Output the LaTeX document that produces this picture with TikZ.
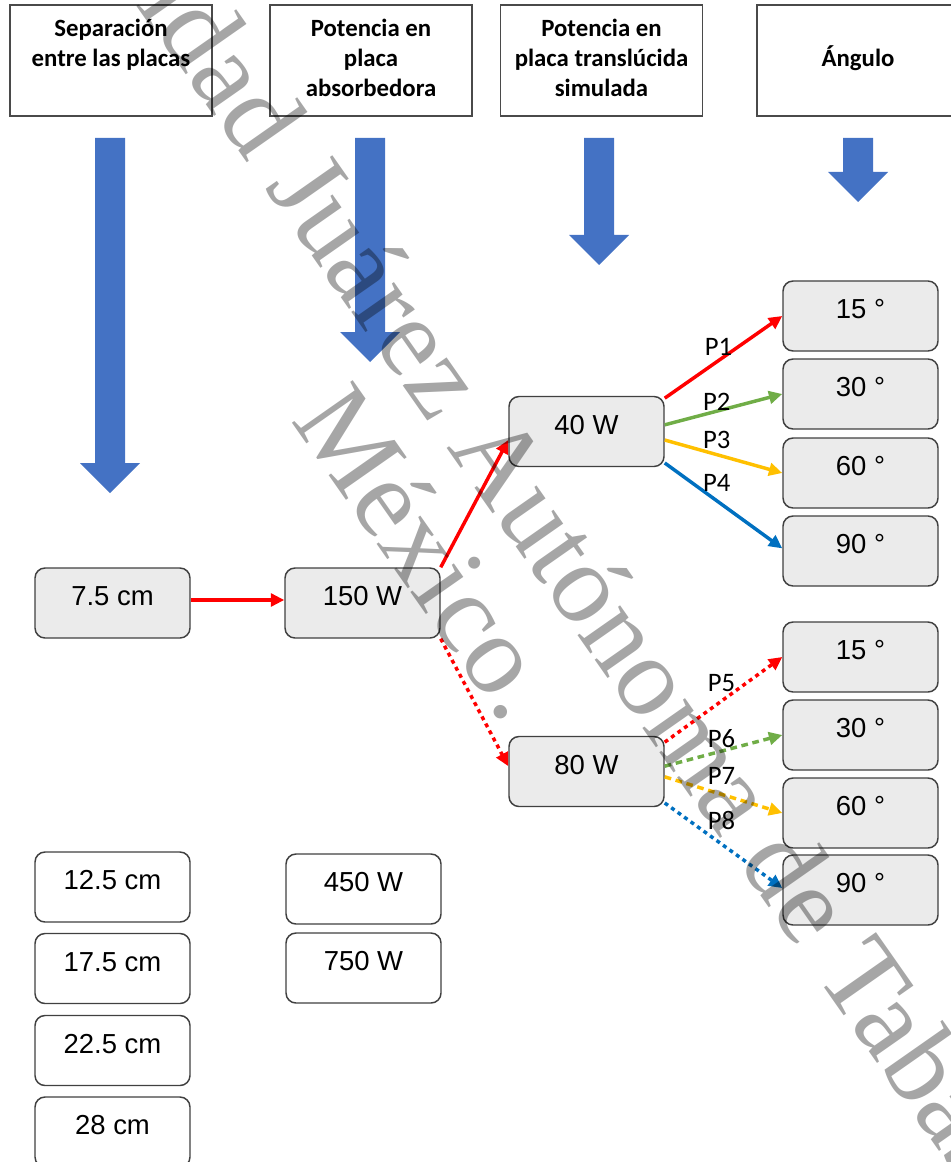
\documentclass[tikz,border=0pt]{standalone}
\usepackage{fontspec}
\setmainfont{Liberation Sans}
\newfontfamily\calfont{Carlito}
\newfontfamily\wmfont{Liberation Serif}
\usetikzlibrary{arrows.meta}
\definecolor{boxfill}{HTML}{EBEBEB}
\definecolor{boxline}{HTML}{404040}
\definecolor{hdrline}{HTML}{4A4A4A}
\definecolor{barblue}{HTML}{4472C4}
\definecolor{cred}{HTML}{FF0000}
\definecolor{cgreen}{HTML}{70AD47}
\definecolor{cyellow}{HTML}{FFC000}
\definecolor{cblue}{HTML}{0070C0}
\begin{document}
\begin{tikzpicture}[x=0.75pt,y=-0.75pt,
  hdr/.style={draw=hdrline, line width=1.1pt, fill=white, minimum width=151.5pt, minimum height=83.25pt, inner sep=0pt},
  hdrtxt/.style={font=\calfont\bfseries\fontsize{18.6pt}{22.5pt}\selectfont, align=center, anchor=north, inner sep=0pt, text=black},
  valbox/.style={draw=boxline, line width=1.1pt, rounded corners=7.5pt, fill=boxfill, minimum width=116.25pt, minimum height=52.5pt, inner sep=0pt, font=\fontsize{20.6pt}{24pt}\selectfont, text height=15pt, text depth=11.25pt},
  whitebox/.style={valbox, fill=white},
  conn/.style={line width=2.6pt, -{Triangle[length=10pt,width=9.5pt]}},
  dots/.style={dash pattern=on 3pt off 3pt},
  dashs/.style={dash pattern=on 5pt off 3.5pt},
  plabel/.style={font=\calfont\fontsize{20pt}{24pt}\selectfont, inner sep=0pt, text=black},
  wm/.style={font=\wmfont\fontsize{85pt}{96pt}\selectfont, rotate=-55, text=black, text opacity=0.35, inner sep=0pt, anchor=base west}
]
\useasboundingbox (0,0) rectangle (950,1162);

% header boxes
\node[hdr, label={[hdrtxt, yshift=-5pt]north:\rule{0pt}{19pt}Separación\\entre las placas}] (h1) at (111,60.5) {};
\node[hdr, label={[hdrtxt, yshift=-5pt]north:\rule{0pt}{19pt}Potencia en\\placa\\absorbedora}] (h2) at (371,60.5) {};
\node[hdr, label={[hdrtxt, yshift=-5pt]north:\rule{0pt}{19pt}Potencia en\\placa translúcida\\simulada}] (h3) at (601.5,60.5) {};
\node[hdr, label={[hdrtxt, yshift=-27.5pt]north:\rule{0pt}{19pt}Ángulo}] (h4) at (858,60.5) {};

% block arrows
\fill[barblue] (95,138) -- (125,138) -- (125,463) -- (140,463) -- (110,493) -- (80,463) -- (95,463) -- cycle;
\fill[barblue] (355,138) -- (385,138) -- (385,332) -- (400,332) -- (370,362) -- (340,332) -- (355,332) -- cycle;
\fill[barblue] (584,138) -- (614,138) -- (614,235) -- (629,235) -- (599,265) -- (569,235) -- (584,235) -- cycle;
\fill[barblue] (843,138) -- (873,138) -- (873,172) -- (888,172) -- (858,202) -- (828,172) -- (843,172) -- cycle;

% value boxes
\node[valbox] (c75) at (112.5,603) {7.5 cm};
\node[valbox] (p150) at (362.5,603) {150 W};
\node[valbox] (w40) at (586.5,431.5) {40 W};
\node[valbox] (w80) at (586.5,771.5) {80 W};

\node[valbox] (a15) at (860.5,316) {15 °};
\node[valbox] (a30) at (860.5,394) {30 °};
\node[valbox] (a60) at (860.5,473) {60 °};
\node[valbox] (a90) at (860.5,551) {90 °};

\node[valbox] (b15) at (860.5,657) {15 °};
\node[valbox] (b30) at (860.5,735) {30 °};
\node[valbox] (b60) at (860.5,813) {60 °};
\node[valbox] (b90) at (860.5,890) {90 °};

\node[whitebox] (c125) at (112.5,887) {12.5 cm};
\node[whitebox] (c175) at (112.5,968.5) {17.5 cm};
\node[whitebox] (c225) at (112.5,1050.5) {22.5 cm};
\node[whitebox] (c28) at (112.5,1132) {28 cm};
\node[whitebox] (p450) at (363.5,889) {450 W};
\node[whitebox] (p750) at (363.5,968) {750 W};

% connectors
\draw[conn, cred] ([yshift=2.25pt]c75.east) -- ([yshift=2.25pt]p150.west);
\draw[conn, cred] (p150.north east) -- ([yshift=-6.4pt]w40.west);
\draw[conn, cred, dots] (p150.south east) -- ([yshift=4pt]w80.west);

\draw[conn, cred] ([yshift=25pt]w40.east) -- (a15.west) node[plabel, pos=0.458, yshift=10pt] {P1};
\draw[conn, cgreen] ([yshift=5pt]w40.east) -- (a30.west) node[plabel, pos=0.442, yshift=7pt] {P2};
\draw[conn, cyellow] ([yshift=-6.4pt]w40.east) -- (a60.west) node[plabel, pos=0.442, yshift=11pt] {P3};
\draw[conn, cblue] ([yshift=-23.6pt]w40.east) -- ([yshift=2pt]a90.west) node[plabel, pos=0.442, yshift=13.2pt] {P4};

\draw[conn, cred, dots] ([yshift=22pt]w80.east) -- (b15.west) node[plabel, pos=0.483, yshift=13.4pt] {P5};
\draw[conn, cgreen, dashs] ([yshift=4pt]w80.east) -- (b30.west) node[plabel, pos=0.483, yshift=9.75pt] {P6};
\draw[conn, cyellow, dashs] ([yshift=-4pt]w80.east) -- (b60.west) node[plabel, pos=0.483, yshift=13.8pt] {P7};
\draw[conn, cblue, dots] ([yshift=-23.6pt]w80.east) -- ([yshift=1.5pt]b90.west) node[plabel, pos=0.483, yshift=18pt] {P8};

% watermark
\node[wm] (wm1) at (-70,-290) {Universidad Juárez Autónoma de Tabasco.};
\node[wm] (wm2) at (290,420) {México.};
\end{tikzpicture}
\end{document}
